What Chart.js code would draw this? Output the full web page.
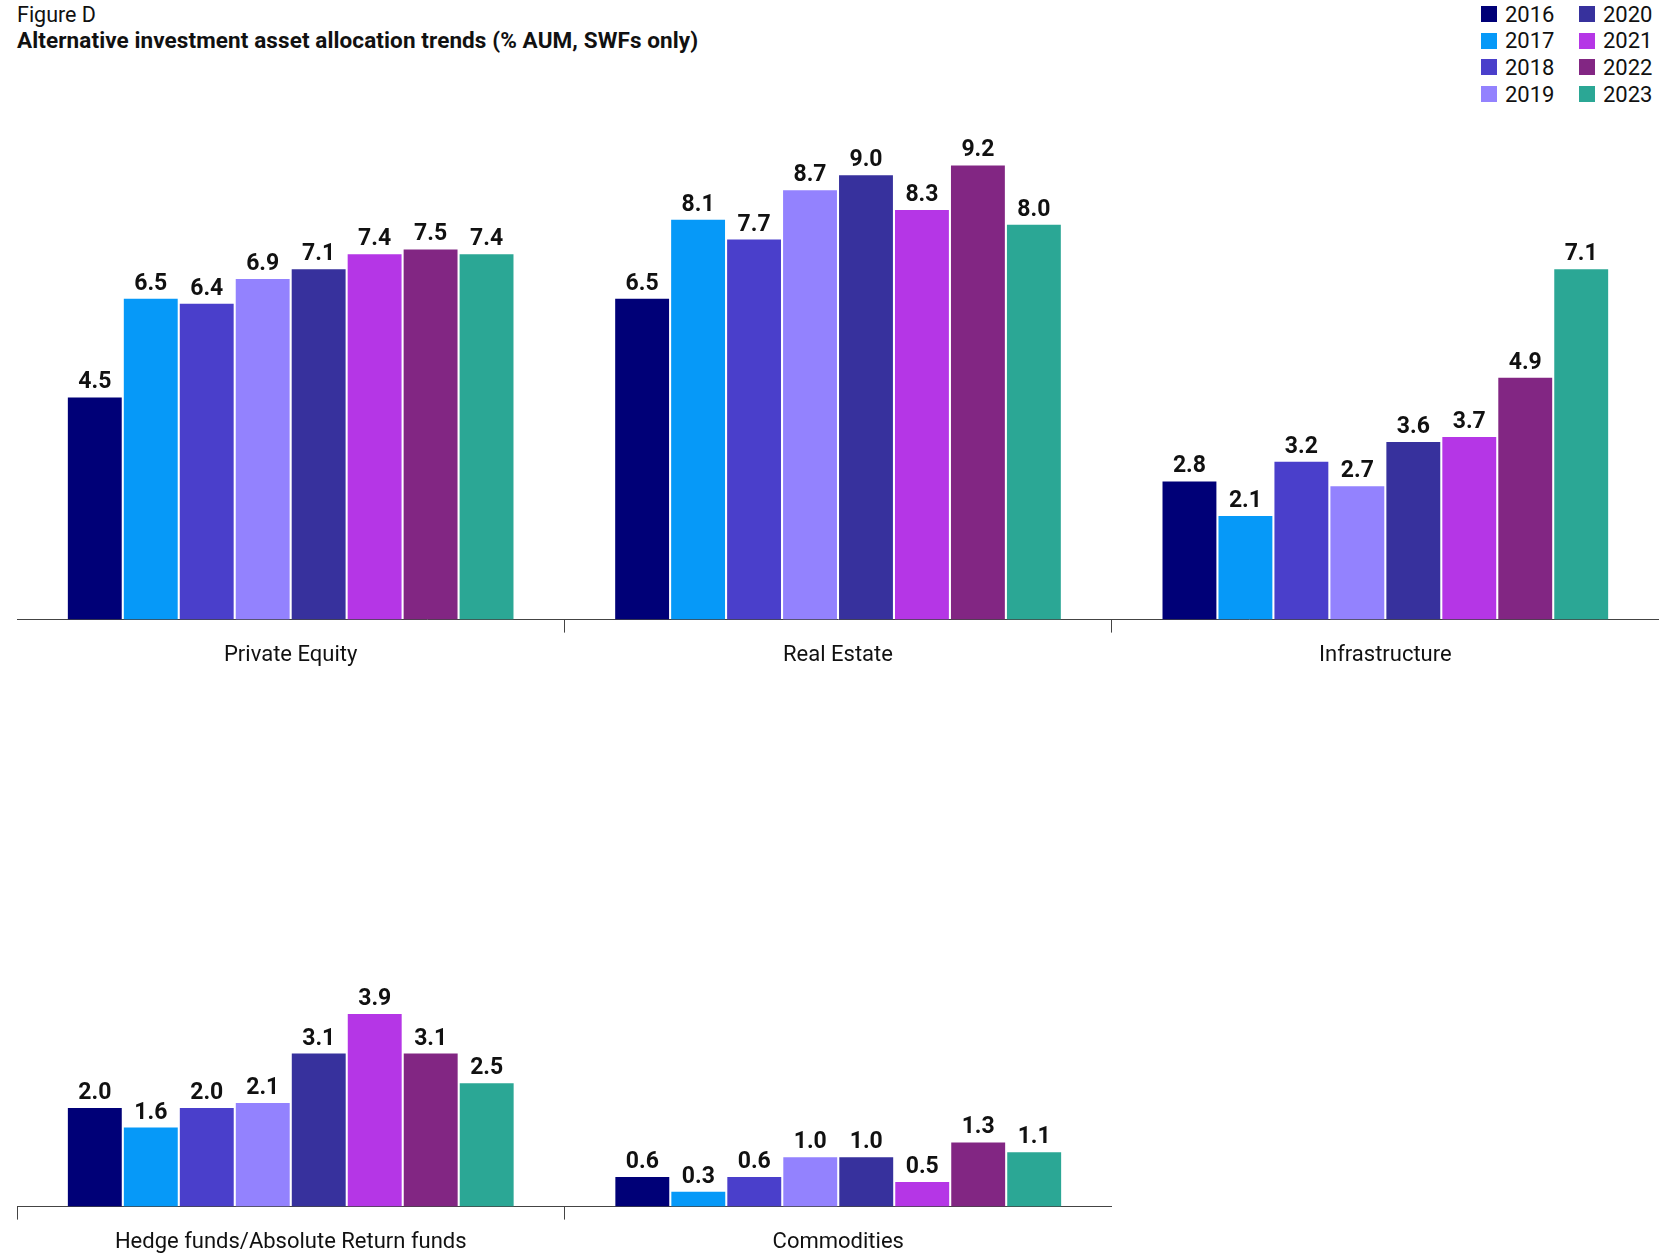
<!DOCTYPE html>
<html>
<head>
<meta charset="utf-8">
<script src="https://cdn.jsdelivr.net/npm/chart.js@4.4.0/dist/chart.umd.min.js"></script>
<style>
  body { margin: 0; background: #fff; font-family: Roboto, sans-serif; color: #111; }
  #wrap { position: relative; width: 1670px; height: 1254px; }
  .fig { position: absolute; left: 17px; top: 2px; font-size: 21.5px; }
  .title { position: absolute; left: 17px; top: 27px; font-size: 22.5px; font-weight: bold; letter-spacing: 0.1px; }
  #legend { position: absolute; left: 1481px; top: 1px; display: grid; grid-template-columns: 98px 90px; grid-auto-flow: column; grid-template-rows: repeat(4, 26.6px); font-size: 22px; }
  #legend div { display: flex; align-items: center; }
  #legend span.sw { width: 16px; height: 16px; margin-right: 8px; display: inline-block; }
  .box { position: absolute; }
</style>
</head>
<body>
<div id="wrap">
  <div class="fig">Figure D</div>
  <div class="title">Alternative investment asset allocation trends (% AUM, SWFs only)</div>
  <div id="legend"></div>
  <div class="box" style="left:17px; top:126px; width:1642px; height:553px;"><canvas id="top"></canvas></div>
  <div class="box" style="left:17px; top:713px; width:1095px; height:553px;"><canvas id="bottom"></canvas></div>
</div>
<script>
// categories
const topCategories = ['Private Equity', 'Real Estate', 'Infrastructure'];
const bottomCategories = ['Hedge funds/Absolute Return funds', 'Commodities'];
const years = ['2016', '2017', '2018', '2019', '2020', '2021', '2022', '2023'];
const colors = ['#000077', '#0699f8', '#4a3fcb', '#9382fe', '#37319d', '#b536e6', '#822683', '#2ba795'];

// values per year: [Private Equity, Real Estate, Infrastructure, Hedge funds, Commodities]
const v2016 = [4.5, 6.5, 2.8, 2.0, 0.6];
const v2017 = [6.5, 8.1, 2.1, 1.6, 0.3];
const v2018 = [6.4, 7.7, 3.2, 2.0, 0.6];
const v2019 = [6.9, 8.7, 2.7, 2.1, 1.0];
const v2020 = [7.1, 9.0, 3.6, 3.1, 1.0];
const v2021 = [7.4, 8.3, 3.7, 3.9, 0.5];
const v2022 = [7.5, 9.2, 4.9, 3.1, 1.3];
const v2023 = [7.4, 8.0, 7.1, 2.5, 1.1];
const allValues = [v2016, v2017, v2018, v2019, v2020, v2021, v2022, v2023];

// legend
const legend = document.getElementById('legend');
years.forEach((y, i) => {
    const d = document.createElement('div');
    d.innerHTML = `<span class="sw" style="background:${colors[i]}"></span>${y}`;
    legend.appendChild(d);
});

// draw value labels above bars
const valueLabels = {
    id: 'valueLabels',
    afterDatasetsDraw(chart) {
        const ctx = chart.ctx;
        ctx.save();
        ctx.font = 'bold 23px Roboto, sans-serif';
        ctx.fillStyle = '#111';
        ctx.textAlign = 'center';
        ctx.textBaseline = 'alphabetic';
        chart.data.datasets.forEach((ds, i) => {
            chart.getDatasetMeta(i).data.forEach((bar, j) => {
                ctx.fillText(ds.data[j].toFixed(1), bar.x, bar.y - 9);
            });
        });
        ctx.restore();
    }
};

function makeChart(id, cats, from, to) {
    new Chart(document.getElementById(id), {
        type: 'bar',
        data: {
            labels: cats,
            datasets: years.map((y, i) => ({
                label: y,
                data: allValues[i].slice(from, to),
                backgroundColor: colors[i],
                categoryPercentage: 0.818,
                barPercentage: 0.963
            }))
        },
        options: {
            responsive: true,
            maintainAspectRatio: false,
            animation: false,
            layout: { padding: 0 },
            plugins: { legend: { display: false }, tooltip: { enabled: false } },
            scales: {
                x: {
                    grid: { offset: true, drawOnChartArea: false, color: '#444', tickLength: 13, lineWidth: 1 },
                    border: { display: true, color: '#444', width: 1 },
                    ticks: { color: '#111', font: { family: 'Roboto, sans-serif', size: 22 }, padding: 10 }
                },
                y: { display: false, min: 0, max: 10 }
            }
        },
        plugins: [valueLabels]
    });
}

makeChart('top', topCategories, 0, 3);
makeChart('bottom', bottomCategories, 3, 5);
</script>
</body>
</html>
